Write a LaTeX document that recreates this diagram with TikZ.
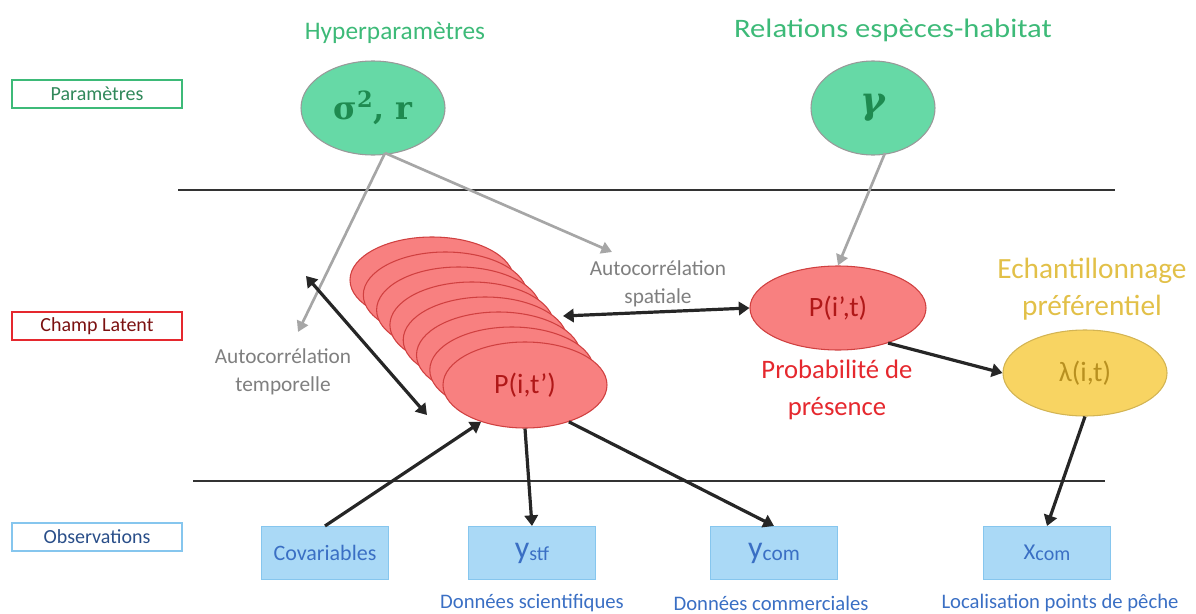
\documentclass[tikz,border=0pt]{standalone}
\usepackage{amsmath}
\usepackage{fontspec}
\setmainfont{Carlito}
\newfontfamily\dvser{DejaVu Serif}
\usetikzlibrary{shapes.geometric,arrows.meta}
\newlength\pxu \setlength\pxu{0.75pt}
\definecolor{tgreen}{HTML}{3DBA78}
\definecolor{mint}{HTML}{66D9A6}
\definecolor{dgreen}{HTML}{1E8A50}
\definecolor{rfill}{HTML}{F88080}
\definecolor{rline}{HTML}{D04040}
\definecolor{dred}{HTML}{B01818}
\definecolor{tred}{HTML}{E5282E}
\definecolor{yfill}{HTML}{F8D462}
\definecolor{ytext}{HTML}{E2C048}
\definecolor{ldark}{HTML}{B89020}
\definecolor{bfill}{HTML}{AAD9F6}
\definecolor{bline}{HTML}{86C6EE}
\definecolor{btext}{HTML}{3A6FC4}
\definecolor{gtext}{HTML}{7F7F7F}
\tikzset{
  lab/.style={draw,line width=1.2pt,minimum width=170\pxu,minimum height=28\pxu,inner sep=0pt,font=\fontsize{15}{15}\selectfont},
  gell/.style={ellipse,draw=gray!80,line width=0.8pt,fill=mint,inner sep=0pt},
  rell/.style={ellipse,draw=rline,line width=0.8pt,fill=rfill,minimum width=164\pxu,minimum height=86\pxu,inner sep=0pt},
  obs/.style={draw=bline,fill=bfill,line width=0.8pt,minimum width=127\pxu,minimum height=53\pxu,inner sep=0pt,text=btext,font=\fontsize{16.5}{17}\selectfont},
  garr/.style={draw=gray!70,line width=2pt,-{Triangle[length=8pt,width=9pt]}},
  barr/.style={draw=black!85,line width=2.4pt,-{Triangle[length=8pt,width=10pt]}},
  bdarr/.style={draw=black!85,line width=2.4pt,{Triangle[length=8pt,width=10pt]}-{Triangle[length=8pt,width=10pt]}},
  gray text/.style={text=gtext,font=\fontsize{16}{21}\selectfont,align=center},
  subt/.style={text=btext,font=\fontsize{15.5}{16}\selectfont},
}
\begin{document}
\begin{tikzpicture}[x=0.75pt,y=-0.75pt]
\useasboundingbox (0,0) rectangle (1196,614);
% left labels
\node[lab,draw=tgreen,text=dgreen!80!gray] (lpar) at (97,94) {Paramètres};
\node[lab,draw=tred,text=dred!70!black] (llat) at (97,326) {Champ Latent};
\node[lab,draw=bline,text=btext!70!black] (lobs) at (97,537) {Observations};
% separators
\coordinate (s1a) at (178,190); \coordinate (s1b) at (1115,190);
\coordinate (s2a) at (193,481); \coordinate (s2b) at (1105,481);
\draw[black!80,line width=1.3pt] (s1a) -- (s1b);
\draw[black!80,line width=1.3pt] (s2a) -- (s2b);
% titles
\node[text=tgreen,font=\fontsize{19}{20}\selectfont] (th) at (395,33) {Hyperparamètres};
\node[text=tgreen,font=\fontsize{20}{20}\selectfont] (tr) at (893,30) {\scalebox{1.15}[1]{Relations espèces-habitat}};
% parameter ellipses
\node[gell,minimum width=144\pxu,minimum height=94\pxu,text=dgreen,font=\fontsize{24}{26}\selectfont\bfseries\dvser] (sig) at (373,108) {σ\textsuperscript{2}, r};
\node[gell,minimum width=124\pxu,minimum height=94\pxu,text=dgreen,font=\fontsize{28}{28}\selectfont\bfseries\itshape\dvser] (gam) at (873,108) {γ};
% stacked latent ellipses
\foreach \i in {0,...,6}{
  \node[rell] (st\i) at ({432+13.3*\i},{280+15*\i}) {};
}
\node[rell,text=dred,font=\fontsize{21}{22}\selectfont] (pit) at (525,385) {P(i,t')};
% P(i',t)
\node[rell,minimum width=176\pxu,minimum height=84\pxu,text=dred,font=\fontsize{21}{22}\selectfont] (pip) at (838,308) {P(i',t)};
\node[text=tred,font=\fontsize{20}{28}\selectfont,align=center] (prob) at (837,390) {Probabilité de\\présence};
% lambda
\node[text=ytext,font=\fontsize{22}{28}\selectfont,align=center] (ech) at (1092,289) {Echantillonnage\\préférentiel};
\node[ellipse,draw=yfill!85!black,fill=yfill,line width=0.8pt,minimum width=164\pxu,minimum height=86\pxu,inner sep=0pt,text=ldark,font=\fontsize{21}{22}\selectfont] (lam) at (1085,373) {λ(i,t)};
% gray texts
\node[gray text] (asp) at (658,284) {Autocorrélation\\spatiale};
\node[gray text] (ate) at (283,372) {Autocorrélation\\temporelle};
% observations
\node[obs] (cov) at (325,553) {Covariables};
\node[obs,font=\fontsize{24}{24}\selectfont] (ystf) at (532,553) {y\raisebox{-2pt}{\fontsize{15}{15}\selectfont stf}};
\node[obs,font=\fontsize{24}{24}\selectfont] (ycom) at (774,553) {y\raisebox{-2pt}{\fontsize{16}{16}\selectfont com}};
\node[obs,font=\fontsize{17}{17}\selectfont] (xcom) at (1047,553) {X\raisebox{-1pt}{\fontsize{15}{15}\selectfont com}};
\node[subt] (dsc) at (532,603) {Données scientifiques};
\node[subt] (dcm) at (771,603) {Données commerciales};
\node[subt] (loc) at (1060,603) {Localisation points de pêche};
% gray arrows
\coordinate (ta) at (298,332);
\coordinate (sa) at (612,252);
\coordinate (sg) at (385,153);
\coordinate (gg) at (885,153);
\draw[garr] (sg) -- (ta);
\draw[garr] (sg) -- (sa);
\draw[garr] (gg) -- (pip.north);
% black arrows
\coordinate (tl1) at (306,276);
\coordinate (tl2) at (427,415);
\draw[bdarr] (tl1) -- (tl2);
\coordinate (sp1) at (563,316);
\draw[bdarr] (sp1) -- (pip.west);
\draw[barr] (pip.-35) -- (lam.west);
\draw[barr] (lam.south) -- (xcom.north);
\draw[barr] (cov.north) -- (pit.-140);
\draw[barr] (pit.south) -- (ystf.north);
\draw[barr] (pit.-40) -- (ycom.north);
\end{tikzpicture}
\end{document}
